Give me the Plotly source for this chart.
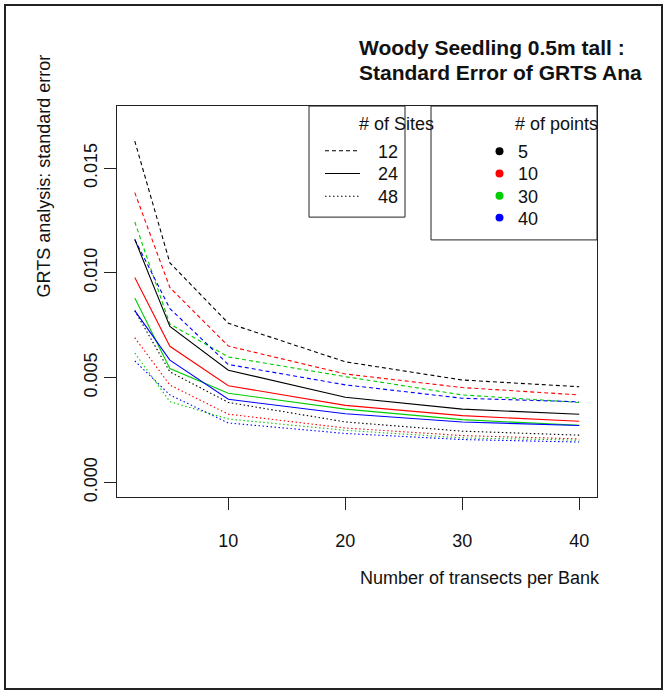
import plotly.graph_objects as go

# Sample design: number of transects per bank on the x axis
transects = [2, 5, 10, 20, 30, 40]

# Standard error of the GRTS estimate, one row per "# of points" (5, 10, 30, 40)
se_sites_12 = [
    [0.01629, 0.01048, 0.00760, 0.00576, 0.00489, 0.00457],
    [0.01383, 0.00930, 0.00651, 0.00518, 0.00453, 0.00418],
    [0.01243, 0.00756, 0.00599, 0.00505, 0.00418, 0.00382],
    [0.01159, 0.00830, 0.00563, 0.00466, 0.00402, 0.00385],
]
se_sites_24 = [
    [0.01160, 0.00745, 0.00536, 0.00407, 0.00350, 0.00326],
    [0.00978, 0.00650, 0.00462, 0.00368, 0.00319, 0.00292],
    [0.00880, 0.00544, 0.00426, 0.00350, 0.00300, 0.00273],
    [0.00820, 0.00584, 0.00397, 0.00328, 0.00289, 0.00272],
]
se_sites_48 = [
    [0.00820, 0.00528, 0.00382, 0.00289, 0.00245, 0.00226],
    [0.00691, 0.00465, 0.00326, 0.00260, 0.00224, 0.00208],
    [0.00618, 0.00386, 0.00303, 0.00249, 0.00213, 0.00202],
    [0.00580, 0.00418, 0.00284, 0.00234, 0.00205, 0.00193],
]

site_labels = ["12", "24", "48"]
point_labels = ["5", "10", "30", "40"]
point_colors = ["#000000", "#FF0000", "#00CD00", "#0000FF"]
site_dashes = ["4px,3px", "solid", "1.5px,2.5px"]

x_ticks = [10, 20, 30, 40]
y_ticks = [0.0, 0.005, 0.010, 0.015]
y_ticktext = ["0.000", "0.005", "0.010", "0.015"]

# The second title line runs into the page frame, so only its visible part is set
title_lines = ["Woody Seedling 0.5m tall :", "Standard Error of GRTS Ana"]
x_title = "Number of transects per Bank"
y_title = "GRTS analysis: standard error"

W, H = 665, 696
FONT = "Liberation Sans, Arial, sans-serif"


def px(x):
    return x / W


def py(y):
    return 1 - y / H


fig = go.Figure()

for se_rows, dash in zip([se_sites_12, se_sites_24, se_sites_48], site_dashes):
    for row, color in zip(se_rows, point_colors):
        fig.add_trace(go.Scatter(
            x=transects, y=row, mode="lines",
            line=dict(color=color, width=1.1, dash=dash),
            showlegend=False, hoverinfo="skip",
        ))

fig.update_layout(
    width=W, height=H,
    margin=dict(l=0, r=0, t=0, b=0),
    paper_bgcolor="white", plot_bgcolor="white",
    font=dict(family=FONT, size=18, color="#111111"),
    showlegend=False,
)

fig.update_xaxes(
    domain=[px(117), px(597)], range=[0.48, 41.52],
    tickmode="array", tickvals=x_ticks,
    ticks="outside", ticklen=12, tickwidth=1, tickcolor="#222222",
    ticklabelstandoff=16,
    showline=True, mirror=True, linecolor="#222222", linewidth=1,
    showgrid=False, zeroline=False,
)
fig.update_yaxes(
    domain=[py(501), py(107)], range=[-0.000676, 0.01796],
    tickmode="array", tickvals=y_ticks, ticktext=y_ticktext, tickangle=-90,
    ticks="outside", ticklen=12, tickwidth=1, tickcolor="#222222",
    ticklabelstandoff=0,
    showline=True, mirror=True, linecolor="#222222", linewidth=1,
    showgrid=False, zeroline=False,
)

annotations = []


def note(text, x, y, xanchor="center", size=18, bold=False, angle=0):
    annotations.append(dict(
        text=f"<b>{text}</b>" if bold else text,
        x=px(x), y=py(y), xref="paper", yref="paper",
        xanchor=xanchor, yanchor="middle", showarrow=False,
        textangle=angle, font=dict(family=FONT, size=size, color="#111111"),
    ))


# Title, axis titles
note(title_lines[0], 357, 48, xanchor="left", size=21, bold=True)
note(title_lines[1], 357, 73, xanchor="left", size=21, bold=True)
note(x_title, 480, 583)
note(y_title, 44, 178, angle=-90)

shapes = []

# Outer frame
shapes.append(dict(type="rect", xref="paper", yref="paper",
                   x0=px(5), x1=px(662), y0=py(695), y1=py(5),
                   line=dict(color="#222222", width=2)))

# Legend: number of sites (line style)
shapes.append(dict(type="rect", xref="paper", yref="paper",
                   x0=px(309), x1=px(405), y0=py(219), y1=py(107),
                   line=dict(color="#222222", width=1), fillcolor="white"))
note("# of Sites", 396, 125)
site_rows = [152, 175, 198]
for lab, dash, yy in zip(site_labels, site_dashes, site_rows):
    shapes.append(dict(type="line", xref="paper", yref="paper",
                       x0=px(325), x1=px(360), y0=py(yy), y1=py(yy),
                       line=dict(color="#000000", width=1.1, dash=dash)))
    note(lab, 376, yy + 1, xanchor="left")

# Legend: number of points (colour)
shapes.append(dict(type="rect", xref="paper", yref="paper",
                   x0=px(431), x1=px(597), y0=py(242), y1=py(107),
                   line=dict(color="#222222", width=1), fillcolor="white"))
note("# of points", 556, 125)
point_rows = [152.5, 175, 197.5, 219.5]
for lab, col, yy in zip(point_labels, point_colors, point_rows):
    r = 4
    shapes.append(dict(type="circle", xref="paper", yref="paper",
                       x0=px(499.5 - r), x1=px(499.5 + r),
                       y0=py(yy + r), y1=py(yy - r),
                       line=dict(color=col, width=0), fillcolor=col))
    note(lab, 516, yy + 1, xanchor="left")

fig.update_layout(annotations=annotations, shapes=shapes)

fig.write_html("out.html")
